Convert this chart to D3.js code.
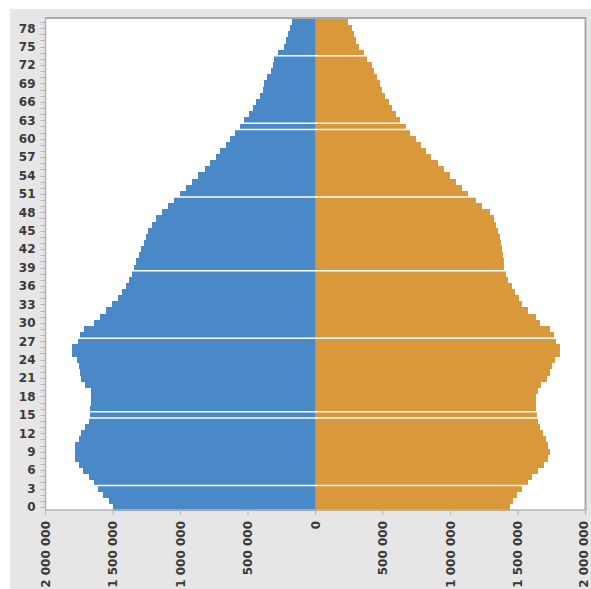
<!DOCTYPE html>
<html>
<head>
<meta charset="utf-8">
<script src="https://cdn.jsdelivr.net/npm/d3@7"></script>
<style>
  html, body { margin: 0; padding: 0; background: #ffffff; }
  svg { display: block; }
</style>
</head>
<body>
<svg id="chart" width="591" height="589"></svg>
<script>
// ---- Data ----
const ages = [0,1,2,3,4,5,6,7,8,9,10,11,12,13,14,15,16,17,18,19,20,21,22,23,24,25,26,27,28,29,
  30,31,32,33,34,35,36,37,38,39,40,41,42,43,44,45,46,47,48,49,50,51,52,53,54,55,56,57,58,59,
  60,61,62,63,64,65,66,67,68,69,70,71,72,73,74,75,76,77,78,79];

const males = [1501000,1533000,1575000,1612000,1642000,1681000,1724000,1753000,1778000,1785000,
  1778000,1753000,1736000,1704000,1681000,1674000,1674000,1665000,1661000,1661000,
  1704000,1736000,1748000,1753000,1765000,1805000,1805000,1760000,1748000,1716000,
  1642000,1600000,1550000,1509000,1464000,1434000,1402000,1378000,1361000,1343000,
  1328000,1311000,1296000,1272000,1254000,1242000,1210000,1180000,1136000,1091000,
  1049000,1002000,958000,913000,869000,822000,780000,736000,704000,662000,
  632000,600000,558000,531000,496000,464000,440000,410000,390000,378000,
  360000,333000,316000,304000,276000,235000,217000,205000,187000,173000];

const females = [1439000,1464000,1496000,1531000,1575000,1600000,1649000,1691000,1721000,1735000,
  1724000,1711000,1687000,1661000,1649000,1644000,1632000,1632000,1632000,1649000,
  1674000,1716000,1735000,1755000,1773000,1810000,1810000,1785000,1768000,1735000,
  1661000,1630000,1575000,1531000,1506000,1476000,1452000,1427000,1410000,1398000,
  1398000,1390000,1383000,1373000,1365000,1353000,1336000,1321000,1296000,1235000,
  1187000,1131000,1086000,1039000,995000,953000,904000,859000,822000,785000,
  743000,699000,669000,625000,593000,563000,543000,514000,496000,476000,
  452000,435000,415000,385000,358000,323000,299000,284000,267000,242000];

const yTickLabels = [0,3,6,9,12,15,18,21,24,27,30,33,36,39,42,45,48,51,54,57,60,63,66,69,72,75,78];
const xTickValues = [-2000000,-1500000,-1000000,-500000,0,500000,1000000,1500000,2000000];
// ages whose lower edge shows a thin white separator line
const gapAges = [4,15,16,28,39,51,62,63,74];

// ---- Layout ----
const svg = d3.select("#chart");
const plot = { left: 45.5, right: 585.5, top: 19, bottom: 510 };
const maleColor = "#4a89c8";
const femaleColor = "#d9983a";

svg.append("rect").attr("x", 10).attr("y", 9).attr("width", 581).attr("height", 580)
  .attr("fill", "#e6e6e6");
svg.append("rect").attr("x", plot.left).attr("y", plot.top - 1)
  .attr("width", plot.right - plot.left).attr("height", plot.bottom - plot.top + 1)
  .attr("fill", "#ffffff");

const x = d3.scaleLinear().domain([-2000000, 2000000]).range([plot.left, plot.right]);
const y = d3.scaleBand().domain(ages).range([plot.bottom, plot.top]).padding(0);

const rows = ages.map((a, i) => ({ age: a, m: males[i], f: females[i] }));

svg.append("g").attr("shape-rendering", "crispEdges")
  .selectAll("rect").data(rows).join("rect")
  .attr("x", d => x(-d.m)).attr("y", d => y(d.age))
  .attr("width", d => x(0) - x(-d.m)).attr("height", y.bandwidth() + 0.6)
  .attr("fill", maleColor);

svg.append("g").attr("shape-rendering", "crispEdges")
  .selectAll("rect").data(rows).join("rect")
  .attr("x", x(0)).attr("y", d => y(d.age))
  .attr("width", d => x(d.f) - x(0)).attr("height", y.bandwidth() + 0.6)
  .attr("fill", femaleColor);

// center line
svg.append("line").attr("x1", x(0)).attr("x2", x(0))
  .attr("y1", plot.top).attr("y2", plot.bottom)
  .attr("stroke", "#8e9aa8").attr("stroke-width", 1);

// white separators
svg.append("g").selectAll("line").data(gapAges).join("line")
  .attr("x1", plot.left + 1).attr("x2", plot.right - 1)
  .attr("y1", d => y(d) + y.bandwidth()).attr("y2", d => y(d) + y.bandwidth())
  .attr("stroke", "#ffffff").attr("stroke-width", 1.5);

// frame
svg.append("line").attr("x1", plot.left).attr("x2", plot.right + 1)
  .attr("y1", plot.top - 1).attr("y2", plot.top - 1)
  .attr("stroke", "#a9a9a9").attr("stroke-width", 2);
svg.append("line").attr("x1", plot.right).attr("x2", plot.right)
  .attr("y1", plot.top - 2).attr("y2", plot.bottom)
  .attr("stroke", "#a9a9a9").attr("stroke-width", 2);

// Y axis
const yAxisG = svg.append("g").attr("transform", `translate(${plot.left},0)`);
yAxisG.append("line").attr("x1", 0).attr("x2", 0).attr("y1", plot.top - 2).attr("y2", plot.bottom)
  .attr("stroke", "#b4b4b4").attr("stroke-width", 1.5);
yAxisG.selectAll("line.tk").data(ages).join("line").attr("class", "tk")
  .attr("x1", -5).attr("x2", 0)
  .attr("y1", d => Math.round(y(d) + y.bandwidth() / 2) + 0.5)
  .attr("y2", d => Math.round(y(d) + y.bandwidth() / 2) + 0.5)
  .attr("stroke", "#b4b4b4").attr("stroke-width", 1);
yAxisG.selectAll("text").data(yTickLabels).join("text")
  .attr("x", -10).attr("y", d => y(d) + y.bandwidth() / 2)
  .attr("dy", "0.36em").attr("text-anchor", "end")
  .attr("font-family", "DejaVu Sans, Verdana, sans-serif").attr("font-weight", "bold")
  .attr("font-size", 12).attr("fill", "#3a3a3a")
  .text(d => d);

// X axis
const fmt = v => d3.format(",")(Math.abs(v)).replace(/,/g, " ");
const xAxisG = svg.append("g").attr("transform", `translate(0,${plot.bottom})`);
xAxisG.append("line").attr("x1", plot.left).attr("x2", plot.right + 1).attr("y1", 0).attr("y2", 0)
  .attr("stroke", "#b4b4b4").attr("stroke-width", 1.5);
xAxisG.selectAll("line.tk").data(xTickValues).join("line").attr("class", "tk")
  .attr("x1", d => x(d)).attr("x2", d => x(d)).attr("y1", 0).attr("y2", 5)
  .attr("stroke", "#b4b4b4").attr("stroke-width", 1);
xAxisG.selectAll("text").data(xTickValues).join("text")
  .attr("transform", d => `translate(${Math.min(x(d), 584)},11) rotate(-90)`)
  .attr("dy", "0.36em").attr("text-anchor", "end")
  .attr("font-family", "DejaVu Sans, Verdana, sans-serif").attr("font-weight", "bold")
  .attr("font-size", 12).attr("fill", "#3a3a3a")
  .text(d => fmt(d));
</script>
</body>
</html>
